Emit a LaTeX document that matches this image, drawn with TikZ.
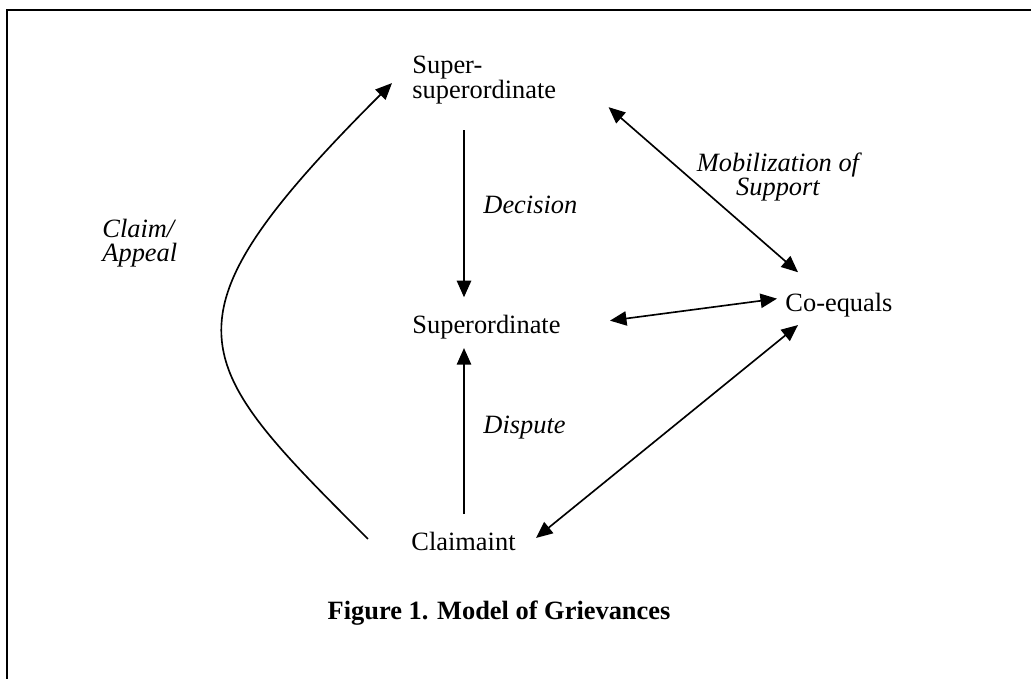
\documentclass[tikz,border=0pt]{standalone}
\usepackage{fontspec}
\setmainfont{Liberation Serif}
\usetikzlibrary{arrows.meta}

\begin{document}
\begin{tikzpicture}[
x=0.4545pt, y=-0.4545pt,
every node/.style={font=\fontsize{12pt}{11pt}\selectfont, inner sep=0pt},
party/.style={anchor=base west},
arclabel/.style={font=\fontsize{12pt}{11pt}\selectfont\itshape},
arrow/.style={-{Triangle[length=7.5pt,width=6.5pt]}, line width=0.75pt},
twoway/.style={{Triangle[length=7.5pt,width=6.5pt]}-{Triangle[length=7.5pt,width=6.5pt]}, line width=0.75pt}
]
\useasboundingbox (0,0) rectangle (1031,679);
% Frame
\draw[line width=0.9pt] (7,700) -- (7,10) -- (1050,10);
% Parties
\node[anchor=north west, align=left] (supsup) at (412,56) {Super-\\superordinate};
\node[party] (sup) at (412,334) {Superordinate};
\node[party] (claimant) at (411,550) {Claimaint};
\node[party] (coequals) at (785,311) {Co-equals};
% Labels
\node[arclabel, anchor=north west, align=left] (claimlbl) at (102,219) {Claim/\\Appeal};
\node[arclabel, anchor=base west] (decision) at (483,214) {Decision};
\node[arclabel, anchor=base west] (dispute) at (483,433) {Dispute};
\node[arclabel, anchor=north, align=center] (mobil) at (778,152) {Mobilization of\\Support};
% Title
\node[font=\fontsize{12pt}{11pt}\selectfont\bfseries, anchor=base] (title) at (499,619) {Figure 1. Model of Grievances};
% Arrows
\draw[arrow] ([shift={(52,26)}]supsup.south west) -- ([shift={(52,-18)}]sup.north west);
\draw[arrow] ([shift={(53,-17)}]claimant.north west) -- ([shift={(52,8)}]sup.south west);
\draw[arrow] ([shift={(-43,-2)}]claimant.west) .. controls (190,361) and (151,324) .. ([shift={(-20,3)}]supsup.west);
\draw[twoway] ([shift={(52,3)}]supsup.south east) -- ([shift={(13,-20)}]coequals.north west);
\draw[twoway] ([shift={(49,-7)}]sup.east) -- ([shift={(-8,-6)}]coequals.west);
\draw[twoway] ([shift={(20,-3)}]claimant.east) -- ([shift={(13,8)}]coequals.south west);
\end{tikzpicture}
\end{document}
